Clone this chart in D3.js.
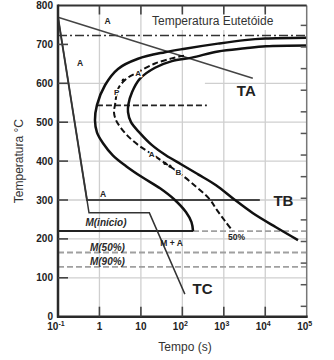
<!DOCTYPE html>
<html>
<head>
<meta charset="utf-8">
<script src="https://cdn.jsdelivr.net/npm/d3@7"></script>
<style>
  body { margin: 0; background: #fff; }
  text { font-family: "Liberation Sans", Arial, sans-serif; }
</style>
</head>
<body>
<svg id="chart" width="334" height="360"></svg>
<script>
// Diagrama TTT (aço eutetóide): tempo em escala log, temperatura em °C

// Curva de início da transformação [tempo (s), temperatura (°C)]
const startCurve = [
  [100000, 717], [10000, 715], [3200, 711], [720, 702], [115, 689], [38, 680],
  [8.5, 663], [2.8, 637], [1.36, 595], [0.87, 544], [0.78, 505], [0.87, 474],
  [1.22, 446], [2.1, 415], [4.4, 387], [10.6, 359], [29, 330], [66, 300],
  [122, 269], [166, 243], [181, 220]
];

// Curva de fim da transformação
const finishCurve = [
  [100000, 697], [10400, 695], [3250, 690], [725, 682], [170, 666], [56, 657],
  [21.9, 640], [9.5, 612], [6.1, 577], [5.0, 546], [4.89, 526], [5.77, 500],
  [9.5, 472], [18.5, 441], [40, 415], [93, 392], [240, 366], [650, 338],
  [1760, 302], [5060, 266], [18150, 230], [61700, 197]
];

// Curva de 50% de transformação
const halfCurve = [
  [110, 671], [96, 670], [55, 664], [21.9, 651], [8.65, 629], [4.54, 612],
  [2.85, 587], [2.37, 544], [2.24, 526], [2.51, 505], [3.31, 485], [5.46, 459],
  [10.1, 436], [18.5, 418], [38, 395], [78.5, 372], [171, 343], [464, 301],
  [685, 274], [1070, 246], [1640, 220]
];

// Trajetórias de resfriamento
const coolingA = [[0.1, 770], [5000, 613]];
const coolingB = [[0.1, 770], [0.5, 300], [7400, 300]];
const coolingC = [[0.1, 770], [0.56, 267], [16, 267], [115, 58]];

// Linhas horizontais de referência
const eutectoidTemp = 723;
const noseLine = [[0.87, 543], [390, 543]];
const msTemp = 220;       // M(início)
const msSolidEnd = 181;   // trecho cheio até a curva de início
const m50Temp = 165;
const m90Temp = 128;

// Eixos
const tempTicks = [0, 100, 200, 300, 400, 500, 600, 700, 800];
const tempGrid = [100, 200, 300, 400, 500];
const tempGridSplit = { T: 600, gapFrom: 1.36, gapTo: 350 };
const timeTicks = [0.1, 1, 10, 100, 1000, 10000, 100000];
const timeTickBase = ["10", "1", "10", "10", "10", "10", "10"];
const timeTickExp = ["-1", "", "", "2", "3", "4", "5"];
const timeGrid = [1, 10, 100, 1000, 10000];
const fahrenheitTicks = [80, 180, 280, 380, 480, 580, 680, 780, 880, 980, 1080, 1180, 1280, 1380];

// Rótulos ancorados em coordenadas (tempo, temperatura)
const regionLabels = [
  { t: 1.58, T: 759, text: "A" },
  { t: 0.34, T: 653, text: "A" },
  { t: 1.22, T: 315, text: "A" },
  { t: 55, T: 189, text: "M + A" },
  { t: 2030, T: 204, text: "50%" }
];
const curveLabels = [
  { t: 2.61, T: 578, text: "P" },
  { t: 8.6, T: 625, text: "A" },
  { t: 18.2, T: 419, text: "A" },
  { t: 79.8, T: 372, text: "B" }
];
const curveDots = [[3.76, 608], [38.1, 394], [50.4, 387]];
const pathLabels = [
  { t: 3490, T: 580, text: "TA" },
  { t: 27500, T: 298, text: "TB" },
  { t: 306, T: 73, text: "TC" }
];
const martensiteLabels = [
  { t: 1.44, T: 241, text: "M(início)" },
  { t: 1.56, T: 177, text: "M(50%)" },
  { t: 1.56, T: 141, text: "M(90%)" }
];

const svg = d3.select("#chart");
const x = d3.scaleLog().domain([0.1, 100000]).range([58, 306.7]);
const y = d3.scaleLinear().domain([0, 800]).range([316.7, 5.5]);
const [x0, x1] = x.range();
const [yb, yt] = y.range();

// Grade
const gridColor = "#cfcfcf";
svg.append("g").selectAll("line").data(tempGrid).join("line")
  .attr("x1", x0).attr("x2", x1)
  .attr("y1", d => y(d)).attr("y2", d => y(d))
  .attr("stroke", gridColor).attr("stroke-width", 1.3);
svg.append("g").selectAll("line")
  .data([[x0, x(tempGridSplit.gapFrom)], [x(tempGridSplit.gapTo), x1]]).join("line")
  .attr("x1", d => d[0]).attr("x2", d => d[1])
  .attr("y1", y(tempGridSplit.T)).attr("y2", y(tempGridSplit.T))
  .attr("stroke", gridColor).attr("stroke-width", 1.3);
svg.append("g").selectAll("line").data(timeGrid).join("line")
  .attr("x1", d => x(d)).attr("x2", d => x(d))
  .attr("y1", yb).attr("y2", yt)
  .attr("stroke", gridColor).attr("stroke-width", 1.3);

// Título da linha eutetoide, com fundo branco
const eutLabel = svg.append("text")
  .attr("x", x(18.5)).attr("y", y(760) + 4)
  .attr("font-size", 12).attr("fill", "#333")
  .text("Temperatura Eutetóide");
const bb = eutLabel.node().getBBox();
svg.insert("rect", "text")
  .attr("x", bb.x - 3).attr("y", bb.y - 2)
  .attr("width", bb.width + 6).attr("height", bb.height + 4)
  .attr("fill", "#fff");

const line = d3.line().x(d => x(d[0])).y(d => y(d[1]));
const smooth = d3.line().x(d => x(d[0])).y(d => y(d[1])).curve(d3.curveCatmullRom.alpha(0.5));

// Linhas horizontais
svg.append("line")
  .attr("x1", x0).attr("x2", x1)
  .attr("y1", y(eutectoidTemp)).attr("y2", y(eutectoidTemp))
  .attr("stroke", "#333").attr("stroke-width", 1.6)
  .attr("stroke-dasharray", "9,3,2,3");

[m50Temp, m90Temp].forEach(T => {
  svg.append("line")
    .attr("x1", x0).attr("x2", x1)
    .attr("y1", y(T)).attr("y2", y(T))
    .attr("stroke", "#a0a0a0").attr("stroke-width", 1.8)
    .attr("stroke-dasharray", "6,3");
});
svg.append("line")
  .attr("x1", x(msSolidEnd)).attr("x2", x1)
  .attr("y1", y(msTemp)).attr("y2", y(msTemp))
  .attr("stroke", "#a0a0a0").attr("stroke-width", 1.8)
  .attr("stroke-dasharray", "6,3");
svg.append("line")
  .attr("x1", x0).attr("x2", x(msSolidEnd))
  .attr("y1", y(msTemp)).attr("y2", y(msTemp))
  .attr("stroke", "#222").attr("stroke-width", 2);

svg.append("path").attr("d", line(noseLine))
  .attr("fill", "none").attr("stroke", "#222").attr("stroke-width", 1.8)
  .attr("stroke-dasharray", "6,3");

// Trajetórias de resfriamento
svg.append("path").attr("d", line(coolingA))
  .attr("fill", "none").attr("stroke", "#444").attr("stroke-width", 1.5);
svg.append("path").attr("d", line(coolingB))
  .attr("fill", "none").attr("stroke", "#444").attr("stroke-width", 1.9);
svg.append("path").attr("d", line(coolingC))
  .attr("fill", "none").attr("stroke", "#333").attr("stroke-width", 1.5);

// Curvas TTT
svg.append("path").attr("d", smooth(startCurve))
  .attr("fill", "none").attr("stroke", "#111").attr("stroke-width", 2.5);
svg.append("path").attr("d", smooth(finishCurve))
  .attr("fill", "none").attr("stroke", "#111").attr("stroke-width", 2.5);
svg.append("path").attr("d", smooth(halfCurve))
  .attr("fill", "none").attr("stroke", "#111").attr("stroke-width", 2)
  .attr("stroke-dasharray", "6,3");

// Marcas sobre a curva de 50%
svg.append("g").selectAll("circle").data(curveDots).join("circle")
  .attr("cx", d => x(d[0])).attr("cy", d => y(d[1])).attr("r", 1.6)
  .attr("fill", "#111");
svg.append("g").selectAll("text").data(curveLabels).join("text")
  .attr("x", d => x(d.t)).attr("y", d => y(d.T)).attr("dy", "0.35em")
  .attr("text-anchor", "middle").attr("font-size", 8).attr("font-weight", "bold")
  .attr("fill", "#222").attr("stroke", "#fff").attr("stroke-width", 2.5)
  .attr("paint-order", "stroke")
  .text(d => d.text);

// Rótulos de regiões
svg.append("g").selectAll("text").data(regionLabels).join("text")
  .attr("x", d => x(d.t)).attr("y", d => y(d.T)).attr("dy", "0.35em")
  .attr("text-anchor", "middle").attr("font-size", 8.5).attr("font-weight", "bold")
  .attr("fill", "#222")
  .text(d => d.text);

svg.append("g").selectAll("text").data(pathLabels).join("text")
  .attr("x", d => x(d.t)).attr("y", d => y(d.T)).attr("dy", "0.36em")
  .attr("text-anchor", "middle").attr("font-size", 15).attr("font-weight", "bold")
  .attr("fill", "#222")
  .text(d => d.text);

svg.append("g").selectAll("text").data(martensiteLabels).join("text")
  .attr("x", d => x(d.t)).attr("y", d => y(d.T)).attr("dy", "0.35em")
  .attr("text-anchor", "middle").attr("font-size", 10).attr("font-style", "italic")
  .attr("font-weight", "bold").attr("fill", "#2a2a2a")
  .text(d => d.text);

// Moldura
svg.append("line").attr("x1", x1).attr("x2", x1).attr("y1", yt).attr("y2", yb)
  .attr("stroke", "#777").attr("stroke-width", 1.5);
svg.append("line").attr("x1", x0).attr("x2", x1).attr("y1", yt).attr("y2", yt)
  .attr("stroke", "#333").attr("stroke-width", 2.2);
svg.append("line").attr("x1", x0).attr("x2", x0).attr("y1", yt - 1).attr("y2", yb + 1)
  .attr("stroke", "#2a2a2a").attr("stroke-width", 2.5);
svg.append("line").attr("x1", x0 - 1).attr("x2", x1 + 1).attr("y1", yb).attr("y2", yb)
  .attr("stroke", "#2a2a2a").attr("stroke-width", 2.5);

// Marcas dos eixos (voltadas para dentro)
svg.append("g").selectAll("line").data(tempTicks.slice(1, -1)).join("line")
  .attr("x1", x0).attr("x2", x0 + 10)
  .attr("y1", d => y(d)).attr("y2", d => y(d))
  .attr("stroke", "#444").attr("stroke-width", 1.6);
svg.append("g").selectAll("line").data(timeTicks.slice(1, -1)).join("line")
  .attr("x1", d => x(d)).attr("x2", d => x(d))
  .attr("y1", yb).attr("y2", yb - 10)
  .attr("stroke", "#444").attr("stroke-width", 1.6);
svg.append("g").selectAll("line").data(timeTicks.slice(1, -1)).join("line")
  .attr("x1", d => x(d)).attr("x2", d => x(d))
  .attr("y1", yt).attr("y2", yt + 9)
  .attr("stroke", "#444").attr("stroke-width", 1.6);
svg.append("g").selectAll("line").data(fahrenheitTicks).join("line")
  .attr("x1", x1).attr("x2", x1 - 6)
  .attr("y1", d => y((d - 32) * 5 / 9)).attr("y2", d => y((d - 32) * 5 / 9))
  .attr("stroke", "#555").attr("stroke-width", 1.5);

// Rótulos dos eixos
svg.append("g").selectAll("text").data(tempTicks).join("text")
  .attr("x", x0 - 5).attr("y", d => y(d)).attr("dy", "0.35em")
  .attr("text-anchor", "end").attr("font-size", 10).attr("font-weight", "bold")
  .attr("fill", "#222")
  .text(d => d);

const xl = svg.append("g").selectAll("text").data(timeTicks).join("text")
  .attr("x", (d, i) => x(d) + (timeTickExp[i] ? -2 : 0)).attr("y", 330)
  .attr("text-anchor", "middle").attr("font-size", 10).attr("font-weight", "bold")
  .attr("fill", "#222");
xl.append("tspan").text((d, i) => timeTickBase[i]);
xl.append("tspan").attr("dy", -4).attr("font-size", 7)
  .text((d, i) => timeTickExp[i]);

svg.append("text")
  .attr("transform", `translate(23, ${(yt + yb) / 2}) rotate(-90)`)
  .attr("text-anchor", "middle").attr("font-size", 12).attr("fill", "#333")
  .text("Temperatura °C");
svg.append("text")
  .attr("x", 185).attr("y", 351)
  .attr("text-anchor", "middle").attr("font-size", 12).attr("fill", "#333")
  .text("Tempo (s)");
</script>
</body>
</html>
